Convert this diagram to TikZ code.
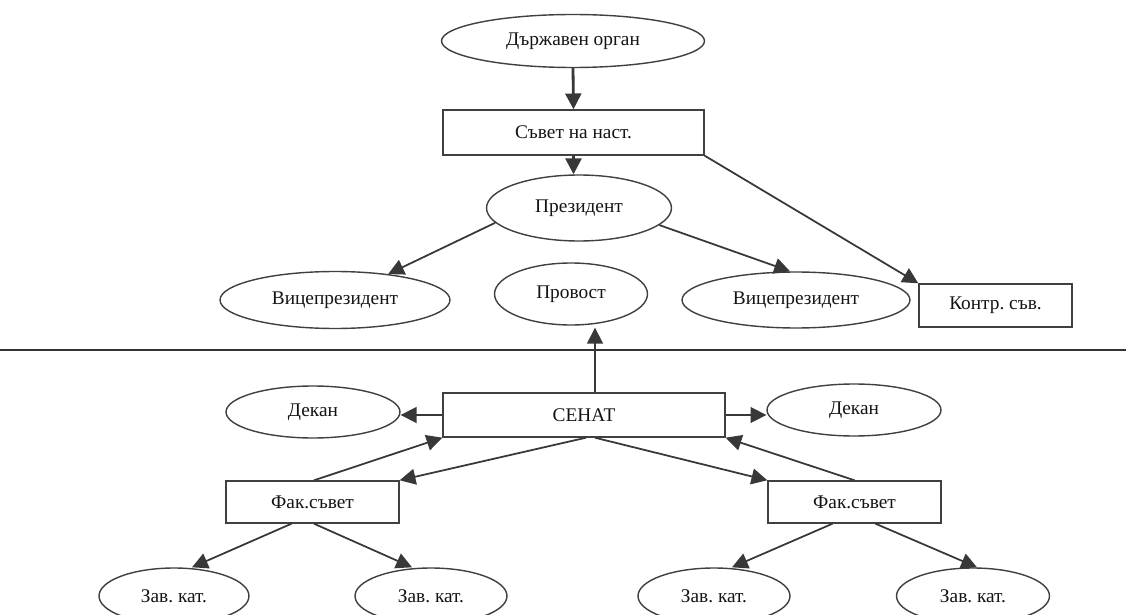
\documentclass[tikz,border=0pt]{standalone}
\usepackage{fontspec}
\setmainfont{Liberation Serif}
\usetikzlibrary{shapes.geometric,arrows.meta,calc}
\frenchspacing
\begin{document}
\begin{tikzpicture}[x=0.02cm,y=-0.02cm,
  lbl/.style={font=\fontsize{11}{13}\selectfont, text=black!92, inner sep=0pt, draw=black!75, line width=0.8pt},
  oval/.style={lbl, ellipse},
  box/.style={lbl, rectangle},
  conn/.style={draw=black!78, line width=1pt, -{Triangle[length=9pt,width=9pt]}},
  thick conn/.style={conn, line width=1.6pt},
  rule/.style={draw=black!80, line width=1.3pt}
]
\clip (0,0) rectangle (1126,615);
\fill[white] (0,0) rectangle (1126,615);

% upper level
\node[oval, minimum width=5.26cm, minimum height=1.06cm] (gov) at (573,41) {Държавен орган};
\node[box, minimum width=5.22cm, minimum height=0.90cm] (sovet) at (573.5,132.5) {Съвет на наст.};
\node[oval, minimum width=3.70cm, minimum height=1.32cm] (pres) at (579,208) {Президент};
\node[oval, minimum width=4.60cm, minimum height=1.14cm] (vp1) at (335,300) {Вицепрезидент};
\node[oval, minimum width=3.06cm, minimum height=1.24cm] (prov) at (571,294) {Провост};
\node[oval, minimum width=4.56cm, minimum height=1.12cm] (vp2) at (796,300) {Вицепрезидент};
\node[box, minimum width=3.06cm, minimum height=0.86cm] (kontr) at (995.5,305.5) {Контр. съв.};

% separator
\draw[rule] (0,350) -- (1126,350);

% lower level
\node[oval, minimum width=3.48cm, minimum height=1.04cm] (dek1) at (313,412) {Декан};
\node[box, minimum width=5.64cm, minimum height=0.88cm] (senat) at (584,415) {СЕНАТ};
\node[oval, minimum width=3.48cm, minimum height=1.04cm] (dek2) at (854,410) {Декан};
\node[box, minimum width=3.46cm, minimum height=0.84cm] (fak1) at (312.5,502) {Фак.съвет};
\node[box, minimum width=3.46cm, minimum height=0.84cm] (fak2) at (854.5,502) {Фак.съвет};
\node[oval, minimum width=3.00cm, minimum height=1.12cm] (zk1) at (174,596) {Зав. кат.};
\node[oval, minimum width=3.04cm, minimum height=1.12cm] (zk2) at (431,596) {Зав. кат.};
\node[oval, minimum width=3.04cm, minimum height=1.12cm] (zk3) at (714,596) {Зав. кат.};
\node[oval, minimum width=3.06cm, minimum height=1.12cm] (zk4) at (973,596) {Зав. кат.};

% connectors, upper
\draw[thick conn] (gov.south) -- (sovet.north);
\draw[thick conn] (sovet.south) -- (sovet.south |- pres.north);
\draw[conn] (pres.190) -- (vp1.26);
\draw[conn] (pres.348) -- ($(vp2.north)+(-6,0)$);
\draw[conn] (sovet.south east) -- (kontr.north west);

% connectors, lower
\draw[conn] ($(senat.north)+(11,0)$) -- ($(prov.south)+(24,2)$);
\draw[conn] (senat.west) -- (senat.west -| dek1.east);
\draw[conn] (senat.east) -- (senat.east -| dek2.west);
\draw[conn] ($(fak1.north)+(1.5,0)$) -- (senat.south west);
\draw[conn] ($(senat.south)+(2,0)$) -- (fak1.north east);
\draw[conn] ($(senat.south)+(11,0)$) -- (fak2.north west);
\draw[conn] (fak2.north) -- (senat.south east);
\draw[conn] ($(fak1.south)+(-21,0)$) -- ($(zk1.north)+(18,0)$);
\draw[conn] ($(fak1.south)+(1.5,0)$) -- ($(zk2.north)+(-19,0)$);
\draw[conn] ($(fak2.south)+(-22,0)$) -- ($(zk3.north)+(18,0)$);
\draw[conn] ($(fak2.south)+(21,0)$) -- ($(zk4.north)+(4,0)$);
\end{tikzpicture}
\end{document}
